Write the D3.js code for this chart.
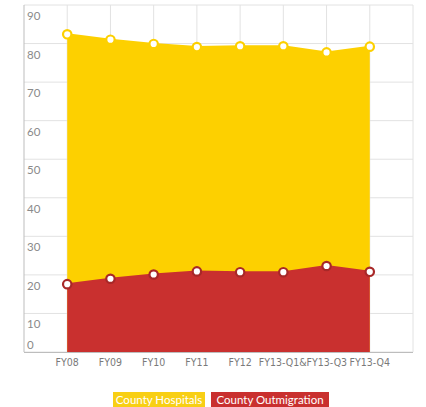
<!DOCTYPE html>
<html><head><meta charset="utf-8">
<script src="https://cdn.jsdelivr.net/npm/d3@7"></script>
<style>
html,body{margin:0;padding:0;background:#fff;}
svg{display:block;font-family:Lato,"Liberation Sans",sans-serif;}
.xl{font-family:"DejaVu Sans Condensed","DejaVu Sans",sans-serif;font-stretch:condensed;}
</style></head>
<body>
<svg id="chart" width="426" height="407"></svg>
<script>
const categories = ["FY08","FY09","FY10","FY11","FY12","FY13-Q1","FY13-Q3","FY13-Q4"];
const xLabels = ["FY08","FY09","FY10","FY11","FY12","FY13-Q1&FY13-Q3","","FY13-Q4"];
const hospitals = [82.4, 81.0, 79.9, 79.1, 79.3, 79.3, 77.7, 79.2];
const outmigration = [17.6, 19.0, 20.1, 20.9, 20.7, 20.7, 22.3, 20.8];
const yTicks = [0,10,20,30,40,50,60,70,80,90];
const seriesNames = ["County Hospitals","County Outmigration"];

const yellow = "#FDD000", red = "#C9302F";
const svg = d3.select("#chart");
const L = 24, R = 413, T = 5, B = 352;

const x = d3.scalePoint().domain(categories).range([L, R]).padding(1);
const y = d3.scaleLinear().domain([0, 90]).range([B, T]);

// grid
const g = svg.append("g");
g.selectAll("line.h").data(yTicks).join("line")
  .attr("x1", L).attr("x2", R).attr("y1", d => y(d)).attr("y2", d => y(d))
  .attr("stroke", "#e2e2e2").attr("stroke-width", 1);
g.selectAll("line.v").data(categories).join("line")
  .attr("x1", d => x(d)).attr("x2", d => x(d)).attr("y1", T).attr("y2", B)
  .attr("stroke", "#e2e2e2").attr("stroke-width", 1);
g.append("line").attr("x1", R).attr("x2", R).attr("y1", T).attr("y2", B)
  .attr("stroke", "#e2e2e2");

function drawSeries(vals, color) {
  const data = categories.map((c, i) => ({c, v: vals[i]}));
  const area = d3.area().x(d => x(d.c)).y0(y(0)).y1(d => y(d.v));
  svg.append("path").datum(data).attr("d", area).attr("fill", color);
  const line = d3.line().x(d => x(d.c)).y(d => y(d.v));
  svg.append("path").datum(data).attr("d", line).attr("fill", "none")
    .attr("stroke", color).attr("stroke-width", 2);
  return data;
}
const d1 = drawSeries(hospitals, yellow);
const d2 = drawSeries(outmigration, red);

// axes
svg.append("line").attr("x1", L).attr("x2", L).attr("y1", T).attr("y2", B)
  .attr("stroke", "#bdbdbd");
svg.append("line").attr("x1", L).attr("x2", R).attr("y1", B + 0.5).attr("y2", B + 0.5)
  .attr("stroke", "#bdbdbd");

// markers
[[d1, yellow], [d2, "#A82828"]].forEach(([data, color]) => {
  svg.selectAll(null).data(data).join("circle")
    .attr("cx", d => x(d.c)).attr("cy", d => y(d.v)).attr("r", 4.2)
    .attr("fill", "#fff").attr("stroke", color).attr("stroke-width", 2.2);
});

// y labels
svg.selectAll("text.yl").data(yTicks).join("text")
  .attr("x", L + 3).attr("y", d => d === 0 ? y(d) - 3 : y(d) + 15)
  .attr("font-size", 11.5).attr("fill", "#8a8a8a").text(d => d);

// x labels
svg.selectAll("text.xl").data(categories.filter((d, i) => xLabels[i] !== "")).join("text")
  .attr("class", "xl")
  .attr("x", d => d === "FY13-Q1" ? (x("FY13-Q1") + x("FY13-Q3")) / 2 - 2 : x(d))
  .attr("y", 366).attr("text-anchor", "middle")
  .attr("font-size", 10.5).attr("fill", "#7a7a7a")
  .text(d => xLabels[categories.indexOf(d)]);

// legend
const legend = [
  {name: seriesNames[0], color: "#F8CF14", x0: 113, x1: 205},
  {name: seriesNames[1], color: "#C9302F", x0: 211, x1: 329}
];
legend.forEach(l => {
  svg.append("rect").attr("x", l.x0).attr("y", 392).attr("width", l.x1 - l.x0).attr("height", 15)
    .attr("fill", l.color);
  svg.append("text").attr("x", (l.x0 + l.x1) / 2).attr("y", 403.5).attr("text-anchor", "middle")
    .attr("font-size", 11.5).attr("fill", "#fff").text(l.name);
});
</script>
</body></html>
